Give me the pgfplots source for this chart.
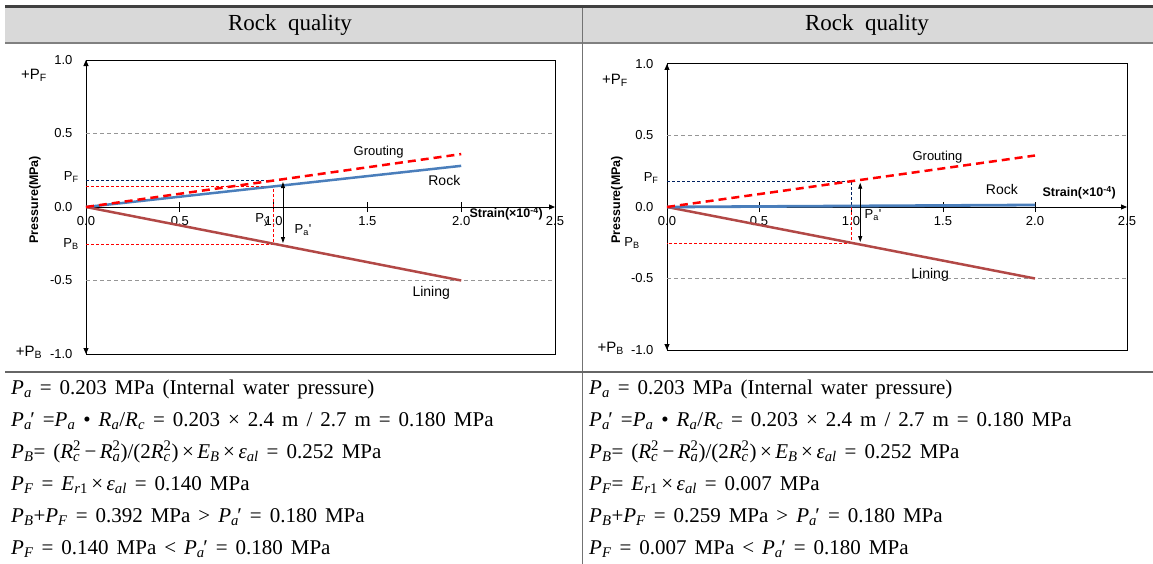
\documentclass[border=0pt]{standalone}
\usepackage{fontspec}
\setmainfont{Liberation Serif}
\newfontfamily\af{Liberation Sans}
\newfontfamily\eqf{Liberation Serif}
\usepackage{pgfplots}
\pgfplotsset{compat=1.18}
\usetikzlibrary{arrows.meta}

\definecolor{rockblue}{RGB}{74,126,187}
\definecolor{liningred}{RGB}{178,72,70}
\definecolor{navy}{RGB}{0,32,96}
\definecolor{hdr}{RGB}{217,217,217}
\definecolor{gridc}{RGB}{150,150,150}

% text helpers for the formula rows
\newcommand\V[2]{\textit{#1}\textsubscript{\textit{#2}}}
\newcommand\Vp[2]{\textit{#1}\makebox[0pt][l]{\textsubscript{\textit{#2}}}\hspace{0.3em}′}
\newcommand\Vs[3]{\textit{#1}\makebox[0pt][l]{\textsubscript{\textit{#2}}}\textsuperscript{#3}}
\newcommand\X{\,×\,}
\newcommand\eqfont{\eqf\fontsize{21}{21}\selectfont\spaceskip=0.38em plus 0.1em\relax}
\newcommand\cf[1]{\af\fontsize{#1}{#1}\selectfont}

\pgfplotsset{
  rockchart/.style={
    scale only axis, clip=false,
    xmin=0, xmax=2.5, ymin=-1, ymax=1,
    axis x line=middle, axis y line=left,
    hide obscured x ticks=false,
    x axis line style={line width=1pt, -{Triangle[length=6pt,width=5pt]}},
    y axis line style={line width=1pt, {Triangle[length=6pt,width=5pt]}-{Triangle[length=6pt,width=5pt]}},
    xtick={0,0.5,1,1.5,2,2.5},
    xticklabels={0.0,0.5,1.0,1.5,2.0,2.5},
    tick align=center, major tick length=10pt,
    tick style={black, line width=0.8pt},
    xticklabel style={font=\cf{13}, yshift=-1pt},
    ytick=\empty,
    extra y ticks={-1,-0.5,0,0.5,1},
    extra y tick labels={-1.0,-0.5,0.0,0.5,1.0},
    extra y tick style={major tick length=0pt},
    yticklabel style={font=\cf{13}, xshift=-10pt},
  },
  gridln/.style={gridc, line width=0.8pt, dash pattern=on 4pt off 3pt},
  refln/.style={line width=1pt, dash pattern=on 3pt off 2pt},
  pa/.style={black, line width=0.8pt, {Triangle[length=6pt,width=4pt]}-{Triangle[length=6pt,width=4pt]}},
}

\begin{document}
\begin{tikzpicture}
\useasboundingbox (0,0) rectangle (1153pt,-564pt);

\begin{scope}[x=1pt, y=-1pt]
  \fill[hdr] (5,7) rectangle (1153,43);
  \draw[line width=2.5pt, black!75] (5,6.5) -- (1153,6.5);
  \draw[line width=2pt, black!50] (5,43.5) -- (1153,43.5);
  \draw[line width=1pt, black!55] (582,8) -- (582,564);
  \draw[line width=1.5pt, black!60] (5,372) -- (1153,372);
  \node[font=\eqf\fontsize{23}{23}\selectfont] at (290,25) {Rock\ \ quality};
  \node[font=\eqf\fontsize{23}{23}\selectfont] at (867,25) {Rock\ \ quality};

  \begin{scope}[every node/.style={anchor=base west, inner sep=0pt, font=\eqfont}]
    \node at (11,394) {\V{P}{a} = 0.203 MPa (Internal water pressure)};
    \node at (11,426) {\Vp{P}{a} =\V{P}{a} • \V{R}{a}/\V{R}{c} = 0.203 × 2.4 m / 2.7 m = 0.180 MPa};
    \node at (11,458) {\V{P}{B}= (\Vs{R}{c}{2}\,−\,\Vs{R}{a}{2})/(2\Vs{R}{c}{2})\X\V{E}{B}\X\V{ε}{al} = 0.252 MPa};
    \node at (11,490) {\V{P}{F} = \textit{E}\textsubscript{\textit{r}1}\X\V{ε}{al} = 0.140 MPa};
    \node at (11,522) {\V{P}{B}+\V{P}{F} = 0.392 MPa > \Vp{P}{a} = 0.180 MPa};
    \node at (11,554) {\V{P}{F} = 0.140 MPa < \Vp{P}{a} = 0.180 MPa};

    \node at (589,394) {\V{P}{a} = 0.203 MPa (Internal water pressure)};
    \node at (589,426) {\Vp{P}{a} =\V{P}{a} • \V{R}{a}/\V{R}{c} = 0.203 × 2.4 m / 2.7 m = 0.180 MPa};
    \node at (589,458) {\V{P}{B}= (\Vs{R}{c}{2}\,−\,\Vs{R}{a}{2})/(2\Vs{R}{c}{2})\X\V{E}{B}\X\V{ε}{al} = 0.252 MPa};
    \node at (589,490) {\V{P}{F}= \textit{E}\textsubscript{\textit{r}1}\X\V{ε}{al} = 0.007 MPa};
    \node at (589,522) {\V{P}{B}+\V{P}{F} = 0.259 MPa > \Vp{P}{a} = 0.180 MPa};
    \node at (589,554) {\V{P}{F} = 0.007 MPa < \Vp{P}{a} = 0.180 MPa};
  \end{scope}
\end{scope}

% left chart
\begin{axis}[rockchart, at={(86pt,-354pt)}, anchor=south west, width=469pt, height=294pt]
  \draw[line width=1pt] (rel axis cs:0,0) rectangle (rel axis cs:1,1);
  \addplot[gridln] coordinates {(0,0.5) (2.5,0.5)};
  \addplot[gridln] coordinates {(0,-0.5) (2.5,-0.5)};
  \addplot[navy, refln] coordinates {(0,0.18) (1,0.18)};
  \addplot[red, refln] coordinates {(0,0.14) (1,0.14) (1,-0.252) (0,-0.252)};
  \addplot[liningred, line width=2.5pt] coordinates {(0,0) (2,-0.5)};
  \addplot[rockblue, line width=2.5pt] coordinates {(0,0) (2,0.28)};
  \addplot[red, line width=2.5pt, dash pattern=on 8pt off 5pt] coordinates {(0,0) (2,0.36)};
  \addplot[pa] coordinates {(1.05,0.17) (1.05,-0.245)};
  \node[font=\cf{13}] at (axis cs:1.56,0.37) {Grouting};
  \node[font=\cf{14}] at (axis cs:1.91,0.18) {Rock};
  \node[font=\cf{14}] at (axis cs:1.84,-0.585) {Lining};
  \node[font=\cf{12.5}\bfseries] at (axis cs:2.24,-0.045) {Strain(×10\textsuperscript{-4})};
  \node[font=\cf{12.5}\bfseries, rotate=90] at (axis cs:-0.272,0.05) {Pressure(MPa)};
  \node[font=\cf{15}] at (axis cs:-0.277,0.898) {+P\textsubscript{F}};
  \node[font=\cf{13}, anchor=east] at (axis cs:-0.02,0.204) {P\textsubscript{F}};
  \node[font=\cf{13}, anchor=east] at (axis cs:-0.02,-0.25) {P\textsubscript{B}};
  \node[font=\cf{15}, anchor=east] at (axis cs:-0.215,-0.99) {+P\textsubscript{B}};
  \node[font=\cf{13}] at (axis cs:0.94,-0.088) {P\textsubscript{y}};
  \node[font=\cf{13}] at (axis cs:1.157,-0.156) {P\textsubscript{a}'};
\end{axis}

% right chart
\begin{axis}[rockchart, at={(667pt,-350pt)}, anchor=south west, width=460pt, height=286pt]
  \draw[line width=1pt] (rel axis cs:0,0) rectangle (rel axis cs:1,1);
  \addplot[gridln] coordinates {(0,0.5) (2.5,0.5)};
  \addplot[gridln] coordinates {(0,-0.5) (2.5,-0.5)};
  \addplot[navy, refln] coordinates {(0,0.18) (1,0.18) (1,0)};
  \addplot[red, refln] coordinates {(1,0) (1,-0.252) (0,-0.252)};
  \addplot[liningred, line width=2.5pt] coordinates {(0,0) (2,-0.5)};
  \addplot[rockblue, line width=2.8pt] coordinates {(0,0) (2,0.014)};
  \addplot[red, line width=2.5pt, dash pattern=on 8pt off 5pt] coordinates {(0,0) (2,0.36)};
  \addplot[pa] coordinates {(1.05,0.17) (1.05,-0.245)};
  \node[font=\cf{13}] at (axis cs:1.47,0.35) {Grouting};
  \node[font=\cf{14}] at (axis cs:1.82,0.12) {Rock};
  \node[font=\cf{14}] at (axis cs:1.43,-0.475) {Lining};
  \node[font=\cf{12.5}\bfseries] at (axis cs:2.24,0.098) {Strain(×10\textsuperscript{-4})};
  \node[font=\cf{12.5}\bfseries, rotate=90] at (axis cs:-0.272,0.05) {Pressure(MPa)};
  \node[font=\cf{15}] at (axis cs:-0.283,0.888) {+P\textsubscript{F}};
  \node[font=\cf{13}, anchor=east] at (axis cs:-0.027,0.2) {P\textsubscript{F}};
  \node[font=\cf{13}] at (axis cs:-0.19,-0.25) {P\textsubscript{B}};
  \node[font=\cf{15}, anchor=east] at (axis cs:-0.215,-0.99) {+P\textsubscript{B}};
  \node[font=\cf{13}] at (axis cs:1.12,-0.056) {P\textsubscript{a}'};
\end{axis}
\end{tikzpicture}
\end{document}
